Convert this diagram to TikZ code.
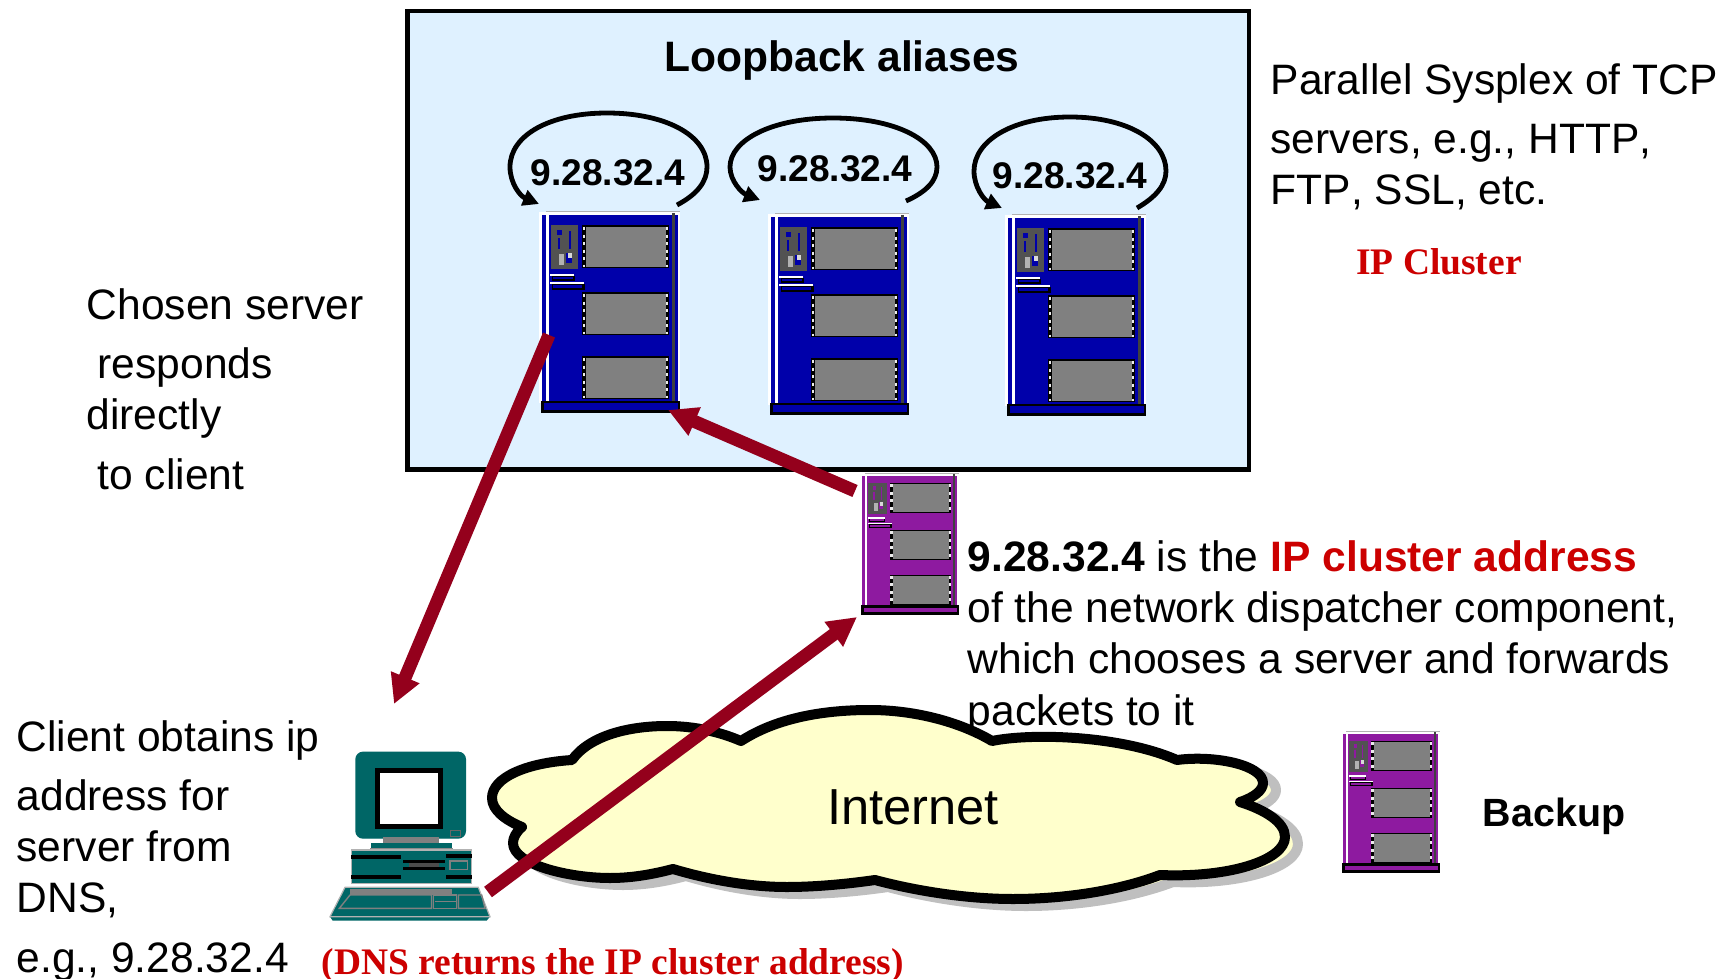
\documentclass[tikz,border=0pt]{standalone}
\usepackage{fontspec}
\setmainfont[Kerning=Off]{Liberation Sans}
\newfontfamily\timesfont{Liberation Serif}
\usetikzlibrary{arrows.meta}
\definecolor{boxblue}{HTML}{DFF1FF}
\definecolor{srvblue}{HTML}{0000AA}
\definecolor{srvpurple}{HTML}{8E1AA0}
\definecolor{cloudyellow}{HTML}{FFFFCC}
\definecolor{pcteal}{HTML}{006666}
\definecolor{routered}{HTML}{94001C}
\definecolor{textred}{HTML}{CC0000}
\tikzstyle{clusterbox} = [draw=black, fill=boxblue, line width=0.45mm]
\tikzstyle{loopArrow} = [line width=0.48mm, -{Triangle[length=1.6mm,width=1.6mm]}]
\tikzstyle{routeArrow} = [draw=routered, line width=1.3mm, -{Triangle[length=2.9mm,width=2.9mm]}]
\tikzstyle{bodytext} = [inner sep=0pt, anchor=base west, align=left, font=\fontsize{12.1}{14.55}\selectfont]
\tikzstyle{addrtext} = [inner sep=0pt, font=\fontsize{10.55}{12}\selectfont\bfseries]
\tikzstyle{redserif} = [inner sep=0pt, text=textred, font=\fontsize{10.65}{12}\selectfont\timesfont\bfseries]
\tikzstyle{chipbox} = [draw=black, fill=gray]
\tikzstyle{chipedge} = [white!85!gray, line width=0.22mm, dash pattern=on 0.3mm off 0.45mm]
\def\server#1{
    \fill[white] (0,1) rectangle (141,192);
    \fill[#1] (3,4) rectangle (139,192);
    \fill[white] (7,1) rectangle (10,192);
    \fill[gray!60] (7,0) rectangle (141,1);
    \fill[black!75] (133,2) rectangle (136,192);
    \foreach \y in {15,82,146} {
        \draw[chipbox, line width=0.12mm] (43.5,\y) rectangle +(86,41.5);
        \fill[black] (43,\y) rectangle +(4,42);
        \fill[black] (126.5,\y) rectangle +(3.5,42);
        \draw[chipedge] (45,\y+1) -- +(0,40);
        \draw[chipedge] (128,\y+1) -- +(0,40);
    }
    \fill[black!68] (12,14) rectangle (39,58);
    \fill[#1] (18,19) rectangle (23,24);
    \fill[#1] (19,27) rectangle (21,38);
    \fill[#1] (30,20) rectangle (32,38);
    \fill[gray!60] (20,43) rectangle (25,54);
    \fill[#1] (27,42) rectangle (33,52);
    \fill[white!70!gray] (29,42) rectangle (33,47);
    \fill[black] (13,65) rectangle (36,70);
    \fill[white] (11,63) rectangle (35,65);
    \fill[#1] (14,66) rectangle (34,68);
    \fill[black] (13,73) rectangle (46,79);
    \fill[white] (11,71) rectangle (45,73);
    \fill[#1] (14,74) rectangle (43,77);
    \draw[black, line width=0.25mm, fill=#1] (3.5,191) rectangle (140,200.5);
}
\def\computer{
    \draw[fill=pcteal, draw=pcteal, rounded corners=2pt] (138,157) rectangle (466,414);
    \fill[black] (195,205) rectangle (400,386);
    \fill[white] (210,220) rectangle (385,371);
    \draw[gray!80!black, line width=0.1mm] (420,392) rectangle (450,408);
    \fill[gray] (220,412) rectangle (388,430);
    \fill[pcteal] (183,430) rectangle (426,445);
    \fill[gray!90] (180,445) rectangle (428,453);
    \draw[fill=pcteal, draw=gray!60, line width=0.15mm] (125,450) rectangle (485,550);
    \fill[black] (123,465) rectangle (272,477);
    \fill[black] (123,526) rectangle (272,538);
    \fill[black] (408,462) rectangle (487,473);
    \fill[black] (408,526) rectangle (487,538);
    \fill[black] (278,480) rectangle (405,490);
    \fill[black!70] (298,490) rectangle (388,500);
    \fill[black] (278,502) rectangle (405,510);
    \draw[gray, line width=0.12mm] (420,483) rectangle (472,508);
    \fill[pcteal] (60,650) -- (540,650) -- (530,662) -- (68,662) -- cycle;
    \draw[fill=pcteal, draw=gray!60, line width=0.12mm] (105,562) -- (505,562) -- (540,650) -- (60,650) -- cycle;
    \fill[gray] (120,568) rectangle (425,585);
    \draw[gray, line width=0.14mm] (120,585) -- (365,585) -- (365,625) -- (88,625) -- cycle;
    \draw[gray, line width=0.14mm] (370,585) rectangle (440,625);
    \draw[gray, line width=0.14mm] (375,605) -- (440,605);
    \draw[gray, line width=0.14mm] (445,585) -- (515,585) -- (525,625) -- (445,625) -- cycle;
}
\def\cloudpath{(572,760) .. controls (590,735) and (630,726) .. (667,726) .. controls (695,726) and (720,732) .. (741,741)
    .. controls (775,719) and (820,710) .. (870,710) .. controls (915,710) and (960,722) .. (992,741)
    .. controls (1030,733) and (1120,735) .. (1177,760) .. controls (1215,755) and (1263,765) .. (1263,783)
    .. controls (1263,790) and (1255,797) .. (1240,802) .. controls (1265,810) and (1285,822) .. (1285,837)
    .. controls (1285,860) and (1230,878) .. (1160,875) .. controls (1115,892) and (1060,899) .. (1013,899)
    .. controls (970,899) and (920,892) .. (875,880) .. controls (840,885) and (810,887) .. (787,887)
    .. controls (750,887) and (710,880) .. (673,869) .. controls (650,875) and (630,878) .. (610,878)
    .. controls (570,878) and (513,865) .. (513,843) .. controls (513,838) and (516,832) .. (522,827)
    .. controls (505,820) and (492,810) .. (492,798) .. controls (492,778) and (525,763) .. (572,760) -- cycle}
\begin{document}
\begin{tikzpicture}[x=0.01cm, y=-0.01cm]
\useasboundingbox (0,0) rectangle (1724,979);

\node[clusterbox, minimum width=8.41cm, minimum height=4.58cm, inner sep=0pt, anchor=north west] (cluster) at (405,9) {};
\node[inner sep=0pt, font=\fontsize{12.1}{14}\selectfont\bfseries] (looptitle) at (842,61) {Loopback aliases};

\node[addrtext] (addrone) at (608,173) {9.28.32.4};
\node[addrtext] (addrtwo) at (835,169) {9.28.32.4};
\node[addrtext] (addrthree) at (1070,176) {9.28.32.4};

\begin{scope}[shift={(539,211)}]
\server{srvblue}
\end{scope}
\begin{scope}[shift={(768,213)}]
\server{srvblue}
\end{scope}
\begin{scope}[shift={(1005,214)}]
\server{srvblue}
\end{scope}
\begin{scope}[shift={(860,473)},scale=0.7]
\server{srvpurple}
\end{scope}
\begin{scope}[shift={(1341,731)},scale=0.7]
\server{srvpurple}
\end{scope}

% loops over the three servers
\draw[loopArrow] (677,205) .. controls (698,194) and (707,181) .. (707,167) .. controls (707,135) and (665,113) .. (607,113)
    .. controls (550,113) and (510,135) .. (510,167) .. controls (510,183) and (520,196) .. (539,204);
\draw[loopArrow] (906,201) .. controls (926,192) and (937,181) .. (937,167) .. controls (937,140) and (895,118) .. (833,118)
    .. controls (772,118) and (730,140) .. (730,167) .. controls (730,181) and (742,193) .. (760,200);
\draw[loopArrow] (1137,208) .. controls (1156,197) and (1166,185) .. (1166,171) .. controls (1166,141) and (1128,117) .. (1070,117)
    .. controls (1012,117) and (974,141) .. (974,171) .. controls (974,187) and (984,200) .. (1002,208);

\node[bodytext] (sysplex) at (1270,205) {Parallel Sysplex of TCP\\[2.3pt]servers, e.g., HTTP,\\FTP, SSL, etc.};
\node[redserif] (iplabel) at (1439,262) {IP Cluster};
\node[bodytext] (chosen) at (86,489) {Chosen server\\[2.3pt]\hspace{1.1mm}responds\\directly\\[2.3pt]\hspace{1.1mm}to client};
\node[bodytext] (client) at (16,972) {Client obtains ip\\[2.3pt]address for\\server from\\DNS,\\[2.3pt]e.g., 9.28.32.4};
\node[bodytext] (dispatch) at (967,725) {\textbf{9.28.32.4} is the \textcolor{textred}{\textbf{IP cluster address}}\\of the network dispatcher component,\\which chooses a server and forwards\\packets to it};
\node[redserif, anchor=base west] (dnslabel) at (321,974) {(DNS returns the IP cluster address)};
\node[inner sep=0pt, font=\fontsize{11.2}{13}\selectfont\bfseries] (backup) at (1554,816) {Backup};

% cloud comes after the text, it hides the tail of the p
\draw[gray!50, fill=cloudyellow, line width=1mm, line join=round, shift={(13,7)}] \cloudpath;
\draw[black, fill=cloudyellow, line width=1mm, line join=round] \cloudpath;
\node[inner sep=0pt, font=\fontsize{14.4}{16}\selectfont] (internet) at (913,807) {Internet};

\begin{scope}[shift={(310,700)},scale=1/3]
\computer
\end{scope}

\coordinate (chosenout) at (549,335);
\coordinate (clientin) at (394,704);
\coordinate (dispout) at (855,491);
\coordinate (chosenin) at (668,410);
\coordinate (clientout) at (488,892);
\coordinate (dispin) at (857,617);
\draw[routeArrow] (chosenout) -- (clientin);
\draw[routeArrow] (dispout) -- (chosenin);
\draw[routeArrow] (clientout) -- (dispin);
\end{tikzpicture}
\end{document}
